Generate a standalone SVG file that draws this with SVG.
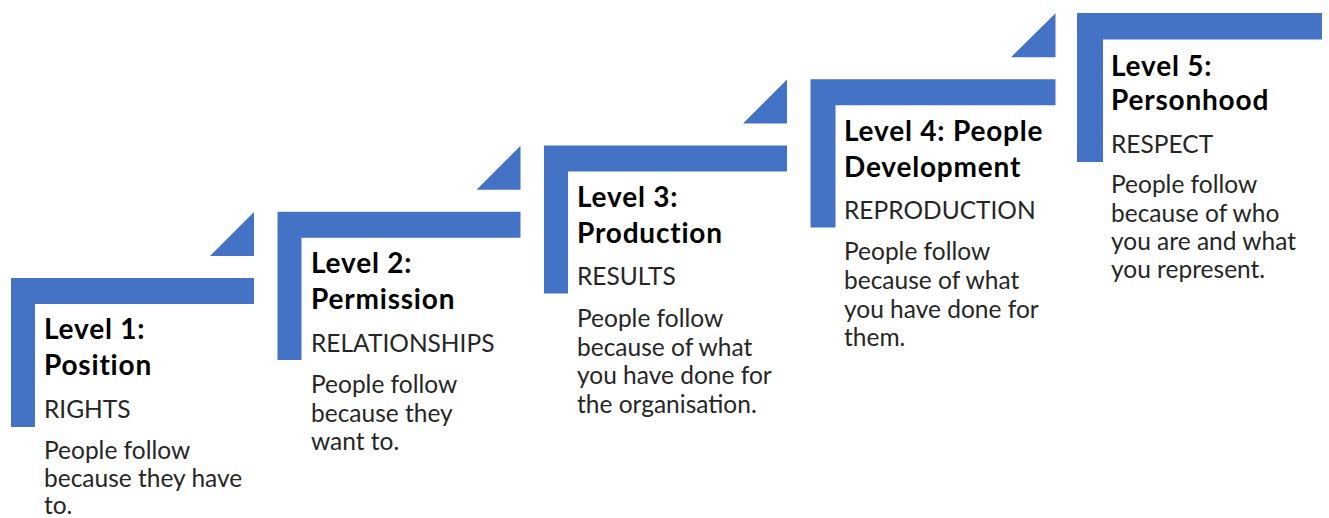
<svg xmlns="http://www.w3.org/2000/svg" width="1329" height="518" viewBox="0 0 1329 518">
<style>
.step{fill:#4472C4}
.t{font-family:Lato,"Liberation Sans",sans-serif;font-weight:bold;font-size:28px;letter-spacing:0.8px;fill:#000}
.c{font-family:Lato,"Liberation Sans",sans-serif;font-size:24.5px;fill:#262626}
.b{font-family:Lato,"Liberation Sans",sans-serif;font-size:24.5px;fill:#262626}
</style>
<rect width="1329" height="518" fill="#fff"/>
<g id="level1">
<path class="step" d="M11 278H254V304H35V427H11Z"/>
<path class="step" d="M210 256H254V212Z"/>
<text class="t" x="44" y="339">Level 1:</text>
<text class="t" x="44" y="375">Position</text>
<text class="c" x="44" y="418">RIGHTS</text>
<text class="b" x="44" y="459">People follow</text>
<text class="b" x="44" y="487">because they have</text>
<text class="b" x="44" y="514">to.</text>
</g>
<g id="level2">
<path class="step" d="M277.5 211.75H520.5V237.75H301.5V360H277.5Z"/>
<path class="step" d="M476.5 189.75H520.5V145.75Z"/>
<text class="t" x="311" y="273">Level 2:</text>
<text class="t" x="311" y="309">Permission</text>
<text class="c" x="311" y="352">RELATIONSHIPS</text>
<text class="b" x="311" y="393">People follow</text>
<text class="b" x="311" y="422">because they</text>
<text class="b" x="311" y="450">want to.</text>
</g>
<g id="level3">
<path class="step" d="M544 145.5H787V171.5H568V293.5H544Z"/>
<path class="step" d="M743 123.5H787V79.5Z"/>
<text class="t" x="577" y="207">Level 3:</text>
<text class="t" x="577" y="243">Production</text>
<text class="c" x="577" y="285">RESULTS</text>
<text class="b" x="577" y="327">People follow</text>
<text class="b" x="577" y="356">because of what</text>
<text class="b" x="577" y="384">you have done for</text>
<text class="b" x="577" y="413">the organisation.</text>
</g>
<g id="level4">
<path class="step" d="M810.5 79.25H1055.5V105.25H835.5V227.5H810.5Z"/>
<path class="step" d="M1011 57.25H1055.5V13.25Z"/>
<text class="t" x="844" y="141">Level 4: People</text>
<text class="t" x="844" y="177">Development</text>
<text class="c" x="844" y="219">REPRODUCTION</text>
<text class="b" x="844" y="260">People follow</text>
<text class="b" x="844" y="289">because of what</text>
<text class="b" x="844" y="318">you have done for</text>
<text class="b" x="844" y="346">them.</text>
</g>
<g id="level5">
<path class="step" d="M1077 13H1322V39.5H1103V162H1077Z"/>
<text class="t" x="1111" y="76">Level 5:</text>
<text class="t" x="1111" y="110">Personhood</text>
<text class="c" x="1111" y="153">RESPECT</text>
<text class="b" x="1111" y="193">People follow</text>
<text class="b" x="1111" y="222">because of who</text>
<text class="b" x="1111" y="250">you are and what</text>
<text class="b" x="1111" y="278">you represent.</text>
</g>
<g id="connectors"/>
</svg>
